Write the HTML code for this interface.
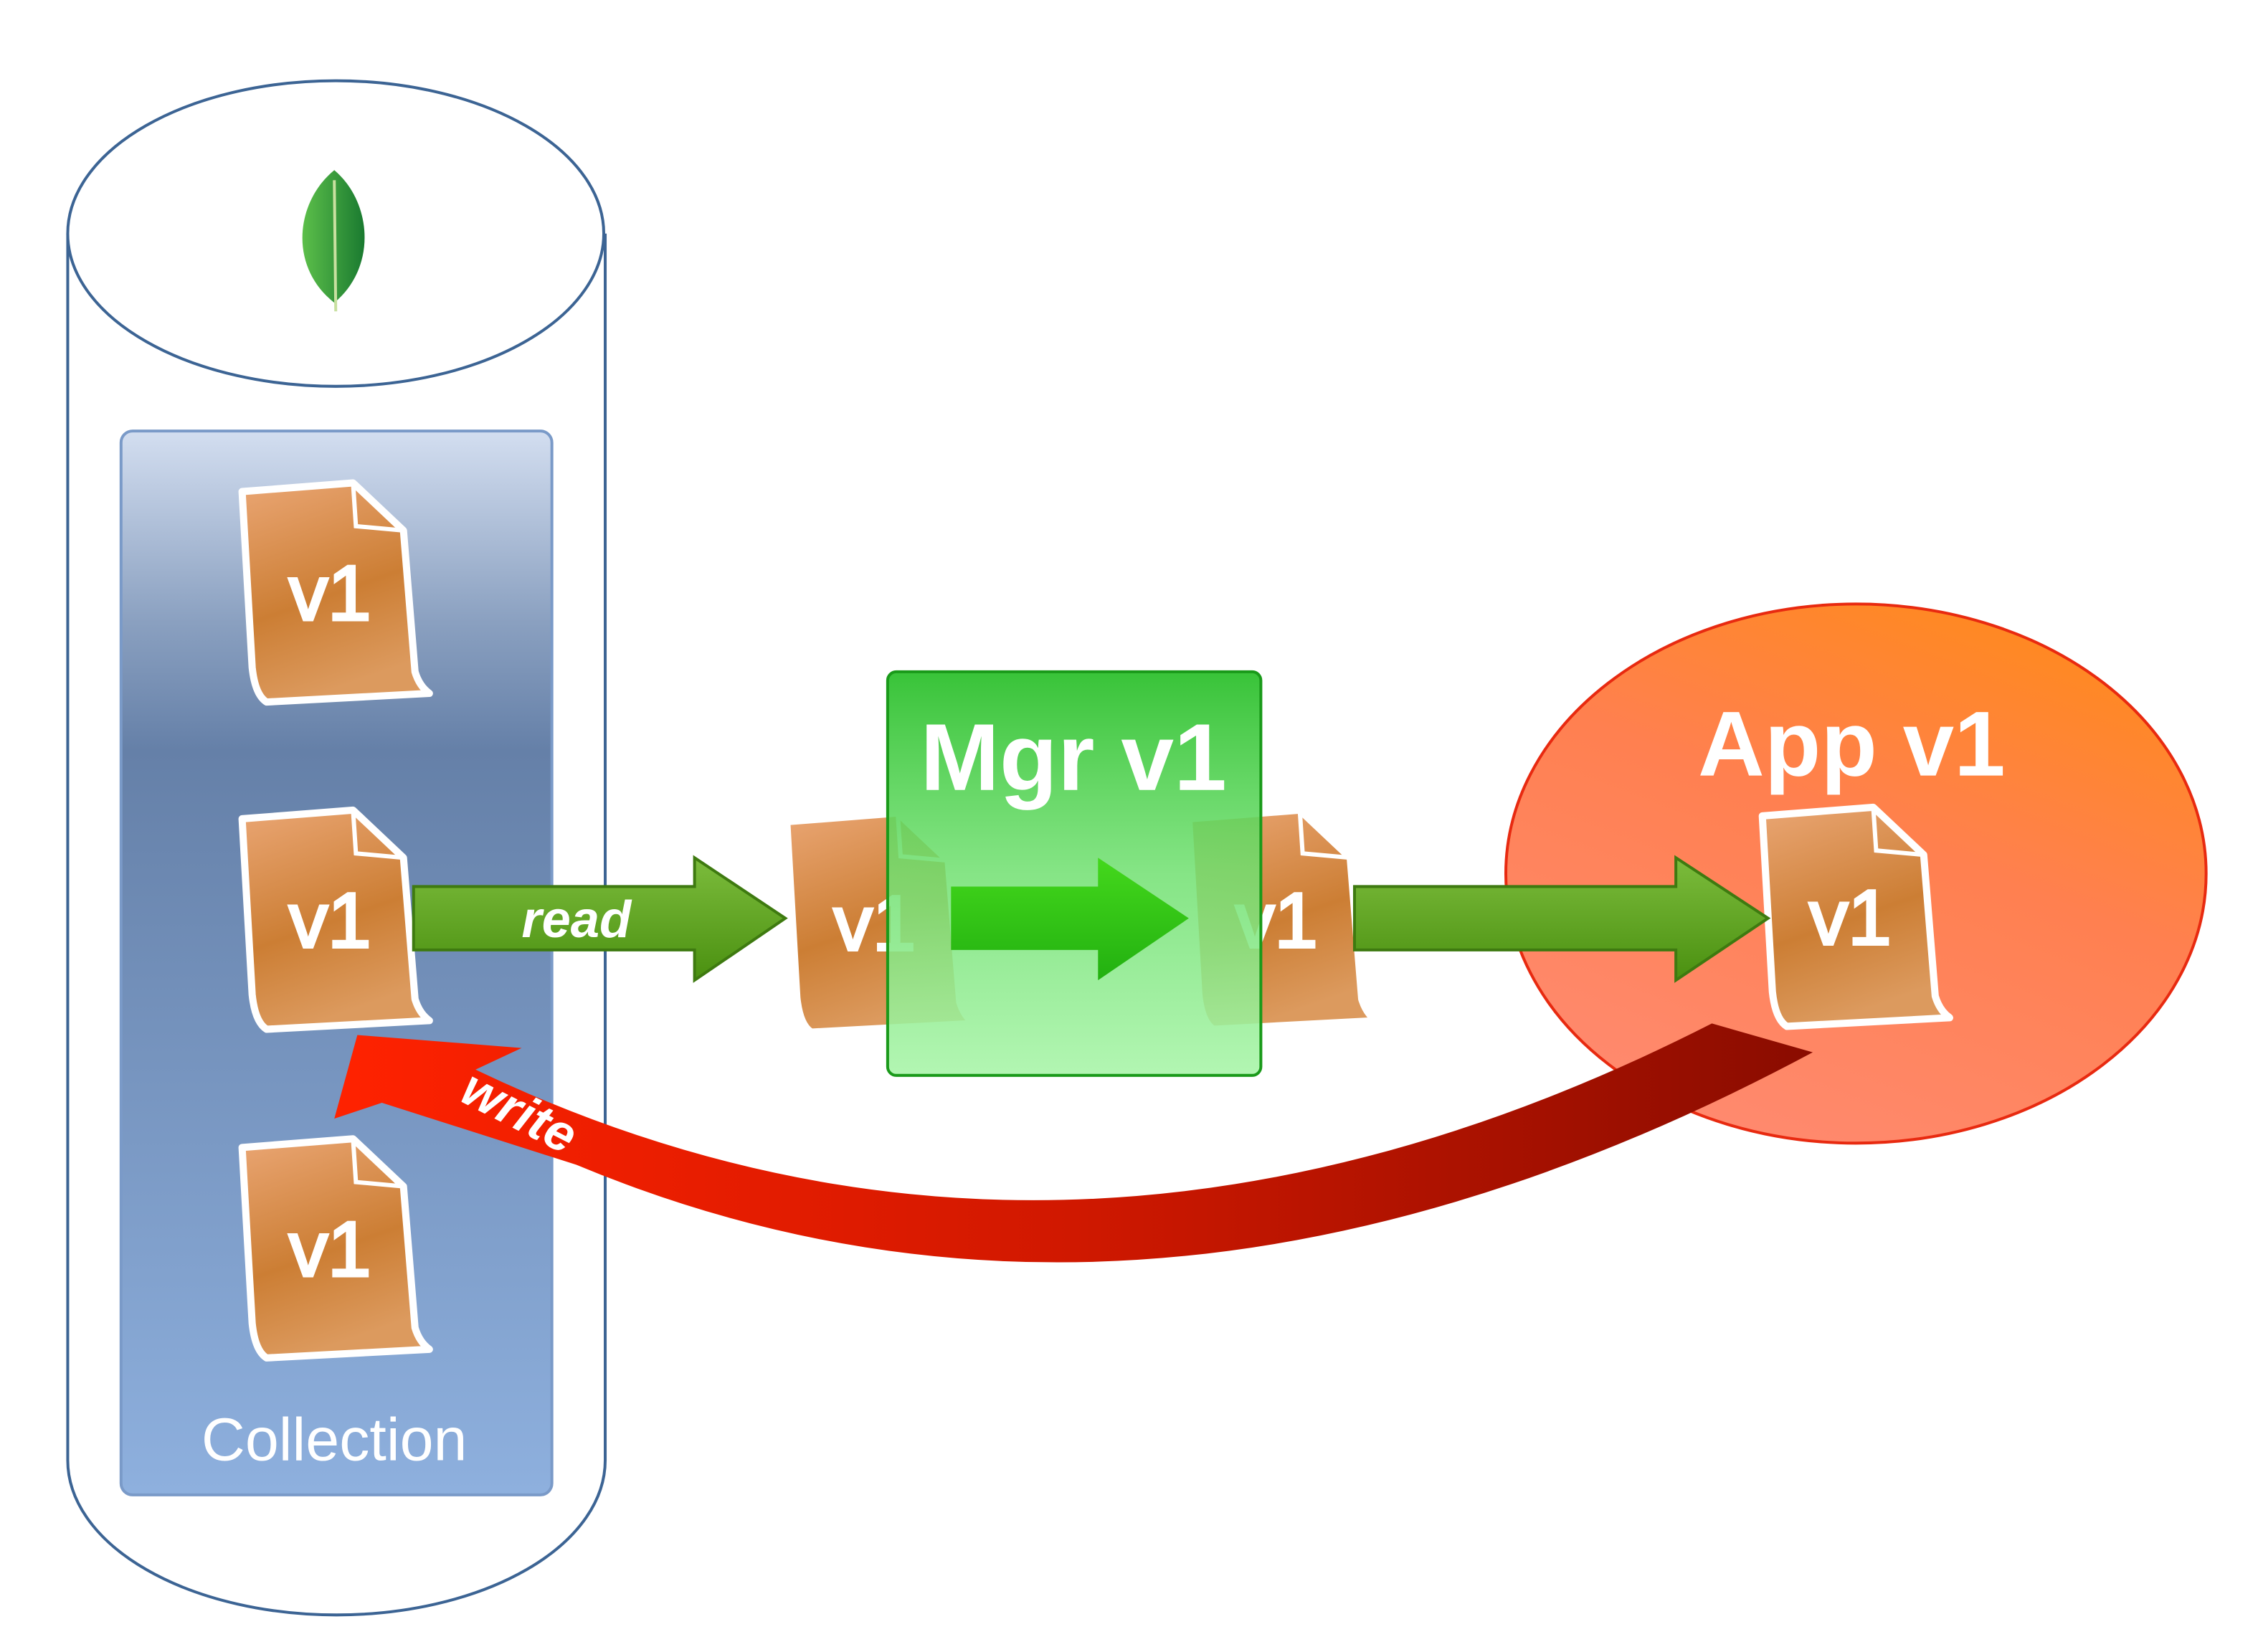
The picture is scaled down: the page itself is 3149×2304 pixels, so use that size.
<!DOCTYPE html>
<html><head><meta charset="utf-8"><style>html,body{margin:0;padding:0;background:#fff}svg{display:block}</style></head>
<body>
<svg width="3149" height="2304" viewBox="0 0 1567 1146" preserveAspectRatio="none" xmlns="http://www.w3.org/2000/svg">
<defs>
<linearGradient id="col" x1="0" y1="0" x2="0" y2="1">
<stop offset="0" stop-color="#d3def0"/><stop offset="0.18" stop-color="#8aa0c0"/><stop offset="0.3" stop-color="#6580a8"/><stop offset="1" stop-color="#8eb0de"/></linearGradient>
<linearGradient id="doc" x1="0" y1="0" x2="0.3" y2="1">
<stop offset="0" stop-color="#eaa674"/><stop offset="0.6" stop-color="#cc7e34"/><stop offset="1" stop-color="#dc9a5e"/></linearGradient>
<linearGradient id="grn" x1="0" y1="0" x2="0" y2="1">
<stop offset="0" stop-color="#7cbc3c"/><stop offset="1" stop-color="#4a9010"/></linearGradient>
<linearGradient id="grn2" x1="0" y1="0" x2="0" y2="1">
<stop offset="0" stop-color="#44d81c"/><stop offset="1" stop-color="#22b010"/></linearGradient>
<linearGradient id="mgr" x1="0" y1="0" x2="0" y2="1">
<stop offset="0" stop-color="#2ec02e" stop-opacity="0.95"/><stop offset="0.5" stop-color="#70e070" stop-opacity="0.85"/><stop offset="1" stop-color="#aaf5aa" stop-opacity="0.9"/></linearGradient>
<linearGradient id="app" x1="0.8" y1="0" x2="0.3" y2="1">
<stop offset="0" stop-color="#ff8a1a"/><stop offset="0.45" stop-color="#ff8050"/><stop offset="1" stop-color="#ff8a70"/></linearGradient>
<linearGradient id="red" x1="0" y1="0" x2="1" y2="0">
<stop offset="0" stop-color="#ff2200"/><stop offset="0.5" stop-color="#d01800"/><stop offset="1" stop-color="#8a0c00"/></linearGradient>
<linearGradient id="leaf" x1="0" y1="0" x2="1" y2="0">
<stop offset="0" stop-color="#5cbf4a"/><stop offset="1" stop-color="#1a7a30"/></linearGradient>
<g id="d">
<path d="M3,8 L80,2 L115,35 L123,133 Q126,143 133,148 L20,154 Q12,149 10,130 Z" fill="url(#doc)" stroke="#fff" stroke-width="5" stroke-linejoin="round"/>
<path d="M80,2 L82,32 L115,35" fill="none" stroke="#fff" stroke-width="3"/>
<text x="64" y="97" font-family="Liberation Sans, sans-serif" font-size="54" fill="#fff" stroke="#fff" stroke-width="2" text-anchor="middle">v1</text>
</g>
</defs>
<path d="M47,162 L47,1013 A186,107 0 0 0 420,1013 L420,162" fill="#fff" stroke="#3c6494" stroke-width="2"/>
<ellipse cx="233" cy="162" rx="186" ry="106" fill="#fff" stroke="#3c6494" stroke-width="2"/>
<path d="M232,118 C205,140 200,185 232,210 C262,185 258,140 232,118 Z" fill="url(#leaf)"/>
<line x1="232" y1="125" x2="233" y2="216" stroke="#c8e0a0" stroke-width="2"/>
<rect x="84" y="299" width="299" height="738" rx="8" fill="url(#col)" stroke="#7a9ac8" stroke-width="2"/>
<text x="232" y="1013" font-family="Liberation Sans, sans-serif" font-size="42" fill="#fff" text-anchor="middle">Collection</text>
<ellipse cx="1288" cy="606" rx="243" ry="187" fill="url(#app)" stroke="#e82a10" stroke-width="2"/>
<text x="1285" y="538" font-family="Liberation Sans, sans-serif" font-size="64" font-weight="bold" fill="#fff" text-anchor="middle">App v1</text>
<use href="#d" x="165" y="333"/>
<use href="#d" x="165" y="560"/>
<use href="#d" x="165" y="788"/>
<use href="#d" x="543" y="562"/>
<use href="#d" x="822" y="560"/>
<use href="#d" x="1220" y="558"/>
<path d="M287,615 L482,615 L482,595 L545,637 L482,680 L482,659 L287,659 Z" fill="url(#grn)" stroke="#3e7a10" stroke-width="2"/>
<text x="400" y="650" font-family="Liberation Sans, sans-serif" font-size="36" font-weight="bold" font-style="italic" fill="#fff" text-anchor="middle">read</text>
<path d="M940,615 L1163,615 L1163,595 L1227,637 L1163,680 L1163,659 L940,659 Z" fill="url(#grn)" stroke="#3e7a10" stroke-width="2"/>
<rect x="616" y="466" width="259" height="280" rx="6" fill="url(#mgr)" stroke="#1a9a1a" stroke-width="2"/>
<path d="M660,615 L762,615 L762,595 L825,637 L762,680 L762,659 L660,659 Z" fill="url(#grn2)"/>
<text x="745" y="548" font-family="Liberation Sans, sans-serif" font-size="66" font-weight="bold" fill="#fff" text-anchor="middle">Mgr v1</text>
<path d="M1188,710 L1258,730 Q800,975 400,808 L265,765 L232,776 L248,718 L362,727 L330,742 Q740,938 1188,710 Z" fill="url(#red)"/>
<text x="355" y="782" font-family="Liberation Sans, sans-serif" font-size="36" font-weight="bold" font-style="italic" fill="#fff" text-anchor="middle" transform="rotate(27 355 782)">write</text>
</svg>
</body></html>
